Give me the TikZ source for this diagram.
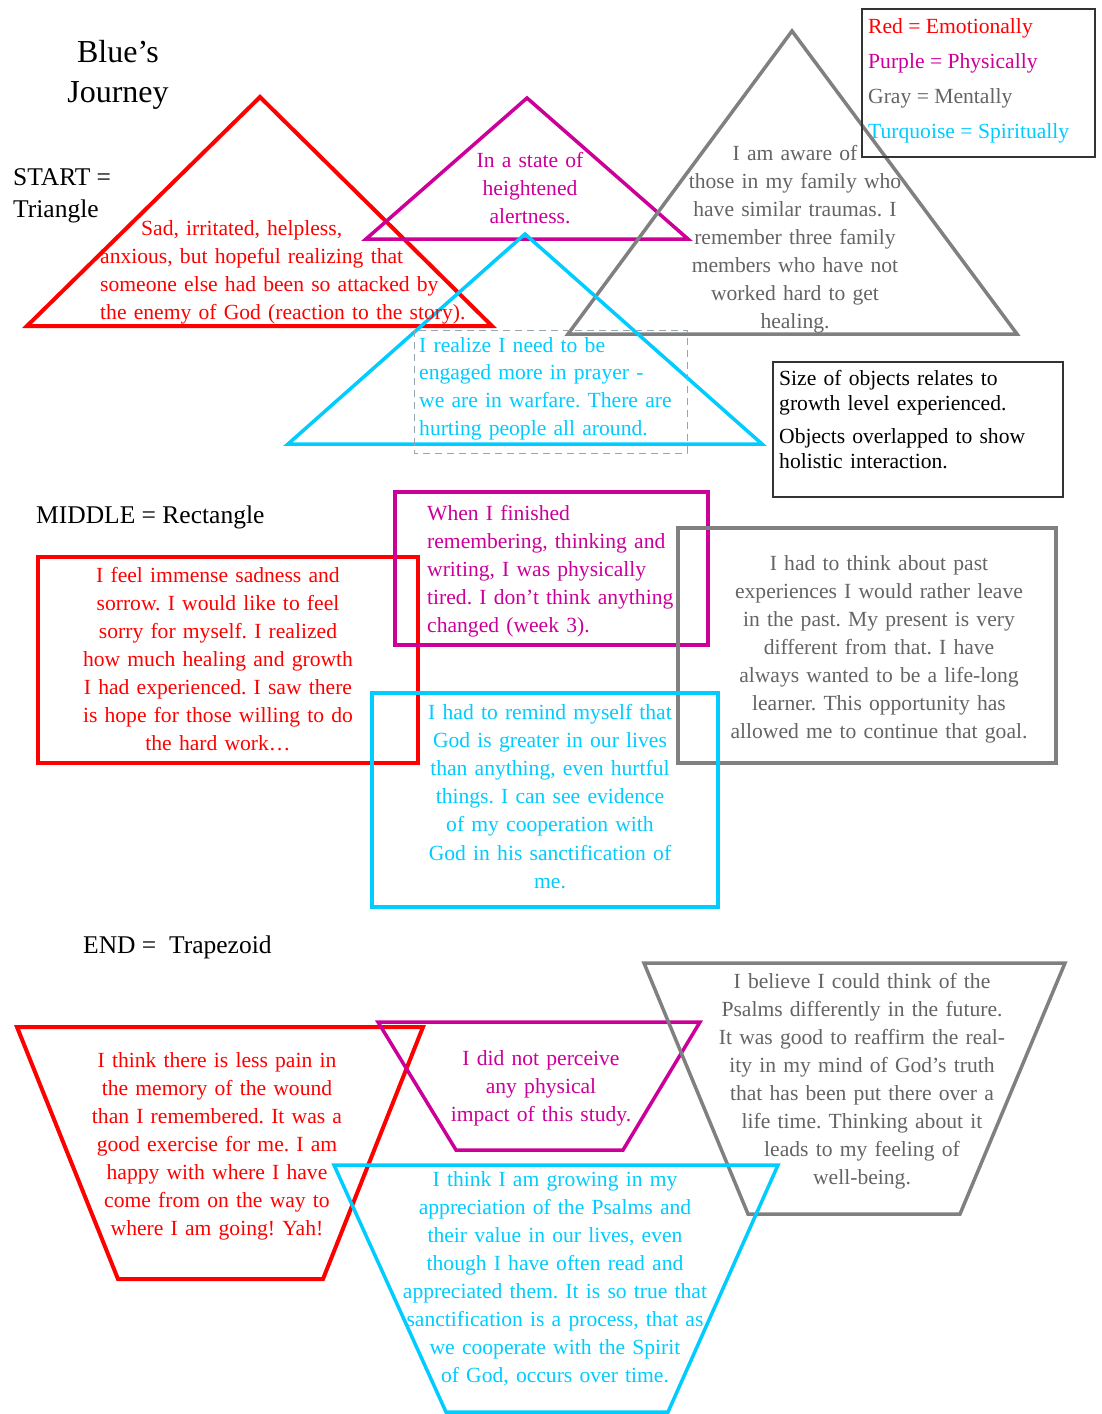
\documentclass[tikz,border=0pt]{standalone}
\usepackage{fontspec}
\setmainfont{Liberation Serif}
\frenchspacing
\definecolor{emo}{RGB}{255,0,0}
\definecolor{phy}{RGB}{204,0,153}
\definecolor{men}{RGB}{128,128,128}
\definecolor{mentext}{RGB}{100,100,100}
\definecolor{spi}{RGB}{0,204,255}
\definecolor{boxdash}{RGB}{150,165,175}

\begin{document}
\begin{tikzpicture}[x=1pt,y=-1pt,
  outline/.style={line width=3.5pt, line join=miter},
  legendframe/.style={line width=2pt, draw=black!80},
  textblock/.style={inner sep=0pt, font=\fontsize{21.6}{28}\selectfont},
  heading/.style={inner sep=0pt, anchor=base west, font=\fontsize{25.5}{32}\selectfont}
]
\useasboundingbox (0,0) rectangle (1101,1414);

% ---------- START: triangles ----------
\draw[outline, emo, line width=4pt] (260,97) -- (27,326) -- (492,326) -- cycle;
\draw[outline, phy] (527,98) -- (366,239) -- (688,239) -- cycle;
\draw[outline, men] (792,31) -- (568,334) -- (1017,334) -- cycle;
\draw[outline, spi] (525,234) -- (288,444) -- (762,444) -- cycle;
\draw[boxdash, line width=1pt, dash pattern=on 7pt off 5pt] (414,330) rectangle (687,453);

% ---------- MIDDLE: rectangles ----------
\draw[outline, emo, line width=4pt] (38,557) rectangle (418,763);
\draw[outline, phy] (395,492) rectangle (708,645);
\draw[outline, men] (678,528) rectangle (1056,763);
\draw[outline, spi] (372,693) rectangle (718,907);

% ---------- END: trapezoids ----------
\draw[outline, emo, line width=4pt] (17,1027) -- (423,1027) -- (323,1279) -- (118,1279) -- cycle;
\draw[outline, phy] (378,1022) -- (700,1022) -- (623,1150) -- (456,1150) -- cycle;
\draw[outline, men] (644,963) -- (1065,963) -- (960,1214) -- (748,1214) -- cycle;
\draw[outline, spi] (334,1165) -- (778,1165) -- (668,1412) -- (446,1412) -- cycle;

% ---------- legend and note boxes ----------
\draw[legendframe] (862,9) rectangle (1095,157);
\draw[legendframe] (773,362) rectangle (1063,497);

% ---------- headings ----------
\node[inner sep=0pt, anchor=base, text width=200pt, align=center,
      font=\fontsize{32}{40}\selectfont] (title) at (118,62) {Blue's\\Journey};
\node[heading] (startLbl) at (13,185) {START =};
\node[heading] (startShape) at (13,217) {Triangle};
\node[heading] (middleLbl) at (36,523) {MIDDLE = Rectangle};
\node[heading] (endLbl) at (83,953) {END =\ \ Trapezoid};

% ---------- legend ----------
\node[textblock, anchor=base west, text=emo] (legEmo) at (868,33) {Red = Emotionally};
\node[textblock, anchor=base west, text=phy] (legPhy) at (868,68) {Purple = Physically};
\node[textblock, anchor=base west, text=mentext] (legMen) at (868,103) {Gray = Mentally};
\node[textblock, anchor=base west, text=spi] (legSpi) at (868,138) {Turquoise = Spiritually};

\node[textblock, anchor=base west, text width=285pt, align=left,
      font=\fontsize{21.6}{25}\selectfont] (note) at (779,385)
  {Size of objects relates to\\growth level experienced.\\[8pt]Objects overlapped to show\\holistic interaction.};

% ---------- START texts ----------
\node[textblock, anchor=base west, text width=420pt, align=left, text=emo] (startEmo) at (100,235)
  {\hspace*{41pt}Sad, irritated, helpless,\\anxious, but hopeful realizing that\\someone else had been so attacked by\\the enemy of God (reaction to the story).};
\node[textblock, anchor=base, text width=300pt, align=center, text=phy] (startPhy) at (530,167)
  {In a state of\\heightened\\alertness.};
\node[textblock, anchor=base, text width=320pt, align=center, text=mentext] (startMen) at (795,160)
  {I am aware of\hspace*{56pt}\\those in my family who\\have similar traumas. I\\remember three family\\members who have not\\worked hard to get\\healing.};
\node[textblock, anchor=base west, text width=300pt, align=left, text=spi,
      font=\fontsize{21.6}{27.7}\selectfont] (startSpi) at (419,352)
  {I realize I need to be\\engaged more in prayer -\\we are in warfare. There are\\hurting people all around.};

% ---------- MIDDLE texts ----------
\node[textblock, anchor=base, text width=360pt, align=center, text=emo] (midEmo) at (218,582)
  {I feel immense sadness and\\sorrow. I would like to feel\\sorry for myself. I realized\\how much healing and growth\\I had experienced. I saw there\\is hope for those willing to do\\the hard work\ldots};
\node[textblock, anchor=base west, text width=300pt, align=left, text=phy] (midPhy) at (427,520)
  {When I finished\\remembering, thinking and\\writing, I was physically\\tired. I don't think anything\\changed (week 3).};
\node[textblock, anchor=base, text width=370pt, align=center, text=mentext] (midMen) at (879,570)
  {I had to think about past\\experiences I would rather leave\\in the past. My present is very\\different from that. I have\\always wanted to be a life-long\\learner. This opportunity has\\allowed me to continue that goal.};
\node[textblock, anchor=base, text width=340pt, align=center, text=spi,
      font=\fontsize{21.6}{28.2}\selectfont] (midSpi) at (550,719)
  {I had to remind myself that\\God is greater in our lives\\than anything, even hurtful\\things. I can see evidence\\of my cooperation with\\God in his sanctification of\\me.};

% ---------- END texts ----------
\node[textblock, anchor=base, text width=360pt, align=center, text=emo] (endEmo) at (217,1067)
  {I think there is less pain in\\the memory of the wound\\than I remembered. It was a\\good exercise for me. I am\\happy with where I have\\come from on the way to\\where I am going! Yah!};
\node[textblock, anchor=base, text width=300pt, align=center, text=phy] (endPhy) at (541,1065)
  {I did not perceive\\any physical\\impact of this study.};
\node[textblock, anchor=base, text width=360pt, align=center, text=mentext] (endMen) at (862,988)
  {I believe I could think of the\\Psalms differently in the future.\\It was good to reaffirm the real-\\ity in my mind of God's truth\\that has been put there over a\\life time. Thinking about it\\leads to my feeling of\\well-being.};
\node[textblock, anchor=base, text width=400pt, align=center, text=spi,
      font=\fontsize{21.6}{28.1}\selectfont] (endSpi) at (555,1186)
  {I think I am growing in my\\appreciation of the Psalms and\\their value in our lives, even\\though I have often read and\\appreciated them. It is so true that\\sanctification is a process, that as\\we cooperate with the Spirit\\of God, occurs over time.};
\end{tikzpicture}
\end{document}
